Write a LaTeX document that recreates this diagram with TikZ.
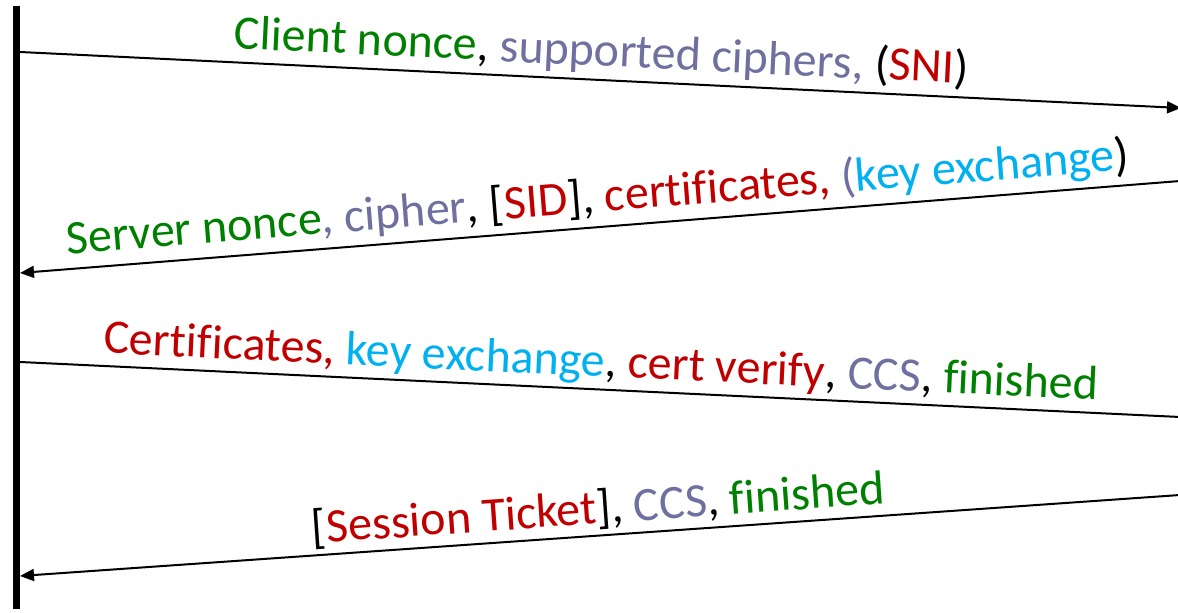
\documentclass[tikz,border=0pt]{standalone}
\usepackage{fontspec}
\setmainfont{Carlito}[Ligatures=CommonOff]
\usetikzlibrary{arrows.meta,calc}
\definecolor{cgreen}{RGB}{0,128,0}
\definecolor{cgrey}{RGB}{112,112,160}
\definecolor{cred}{RGB}{192,0,0}
\definecolor{ccyan}{RGB}{0,176,240}
\begin{document}
\begin{tikzpicture}[x=1pt,y=1pt,
  msg/.style={line width=2pt, black},
  tip/.style={-{Triangle[length=14pt,width=12pt]}},
  lbl/.style={font=\fontsize{48}{54}\selectfont, inner sep=0pt, anchor=base}]
\useasboundingbox (0,0) rectangle (1178,613);
% lifeline
\coordinate (bt) at (16,607);
\coordinate (bb) at (16,4);
\draw[line width=7pt] (bt) -- (bb);
% end points
\coordinate (c1) at (20,561);  \coordinate (s1) at (1181,505);
\coordinate (c2) at (20,340);  \coordinate (s2) at (1180,432);
\coordinate (c3) at (20,251);  \coordinate (s3) at (1180,196);
\coordinate (c4) at (20,37);   \coordinate (s4) at (1180,118);
\draw[msg,tip] (c1) -- (s1);
\draw[msg,tip] (s2) -- (c2);
\draw[msg] (c3) -- (s3);
\draw[msg,tip] (s4) -- (c4);
% midpoints
\coordinate (m1) at ($(c1)!0.5!(s1)$);
\coordinate (m2) at ($(c2)!0.5!(s2)$);
\coordinate (m3) at ($(c3)!0.5!(s3)$);
\coordinate (m4) at ($(c4)!0.5!(s4)$);
\node[lbl, rotate=-2.76] (t1) at ($(m1)!14pt!90:(s1)$)
  {\textcolor{cgreen}{Client nonce}, \textcolor{cgrey}{supported ciphers,} (\textcolor{cred}{SNI})};
\node[lbl, rotate=4.54] (t2) at ($(m2)!15pt!90:(s2)$)
  {\textcolor{cgreen}{Server nonce}\textcolor{cgrey}{, cipher}, [\textcolor{cred}{SID}], \textcolor{cred}{certificates,} \textcolor{cgrey}{(}\textcolor{ccyan}{key exchange})};
\node[lbl, rotate=-2.72] (t3) at ($(m3)!13pt!90:(s3)$)
  {\textcolor{cred}{Certificates,} \textcolor{ccyan}{key exchange}, \textcolor{cred}{cert verify}, \textcolor{cgrey}{CCS}, \textcolor{cgreen}{finished}};
\node[lbl, rotate=4.0] (t4) at ($(m4)!12pt!90:(s4)$)
  {[\textcolor{cred}{Session Ticket}], \textcolor{cgrey}{CCS}, \textcolor{cgreen}{finished}};
\end{tikzpicture}
\end{document}
